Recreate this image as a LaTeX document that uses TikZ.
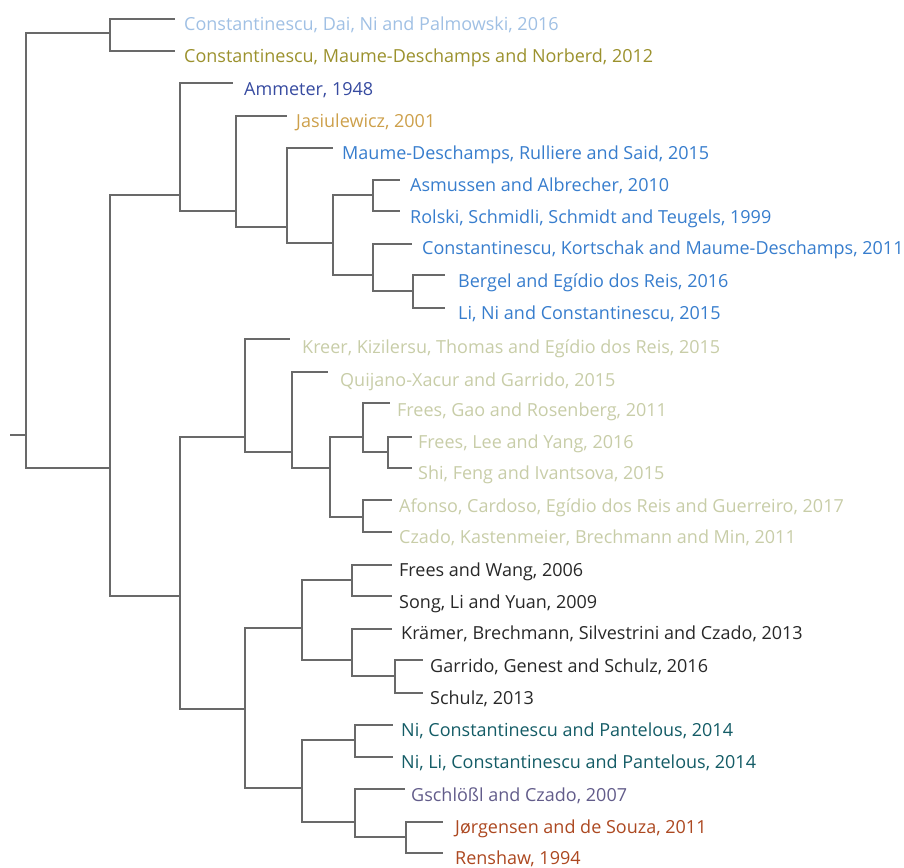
\documentclass[tikz,border=0pt]{standalone}
\usepackage{fontspec}
\setmainfont{Open Sans}
\definecolor{cLightBlue}{RGB}{160,192,228}
\definecolor{cOlive}{RGB}{155,145,45}
\definecolor{cNavy}{RGB}{55,75,160}
\definecolor{cTan}{RGB}{205,160,75}
\definecolor{cBlue}{RGB}{55,125,205}
\definecolor{cBeige}{RGB}{200,205,168}
\definecolor{cBlack}{RGB}{40,40,40}
\definecolor{cTeal}{RGB}{20,92,102}
\definecolor{cPurple}{RGB}{98,92,138}
\definecolor{cRust}{RGB}{172,72,32}
\definecolor{cLine}{RGB}{105,105,105}
\tikzset{
  x=1pt, y=-1pt,
  leaf/.style={anchor=base west, inner sep=0pt, font=\fontsize{18}{20}\selectfont},
  branch/.style={draw=cLine, line width=2.2pt},
}
\begin{document}
\begin{tikzpicture}
\useasboundingbox (0,0) rectangle (904,867);
% internal nodes
\coordinate (R0) at (10,435);
\coordinate (R) at (26,435);
\coordinate (A) at (110,33);
\coordinate (B) at (110,468);
\coordinate (C) at (180,195);
\coordinate (E) at (236,211);
\coordinate (F) at (287,227);
\coordinate (G) at (333,243);
\coordinate (H) at (373,195);
\coordinate (I) at (373,275);
\coordinate (J) at (413,291);
\coordinate (D) at (180,596);
\coordinate (K) at (245,437);
\coordinate (M) at (292,452);
\coordinate (N) at (330,468);
\coordinate (O) at (363,437);
\coordinate (Q) at (388,452);
\coordinate (P) at (363,517);
\coordinate (L) at (245,709);
\coordinate (S) at (302,628);
\coordinate (U) at (352,580);
\coordinate (V) at (352,660);
\coordinate (W) at (395,676);
\coordinate (T) at (302,788);
\coordinate (X) at (355,740);
\coordinate (Y) at (355,822);
\coordinate (Z) at (406,837);
% leaf line ends
\coordinate (e1) at (175,19);
\coordinate (e2) at (175,51);
\coordinate (e3) at (233,83);
\coordinate (e4) at (287,116);
\coordinate (e5) at (333,148);
\coordinate (e6) at (400,180);
\coordinate (e7) at (400,211);
\coordinate (e8) at (412,244);
\coordinate (e9) at (445,275);
\coordinate (e10) at (445,308);
\coordinate (e11) at (290,339);
\coordinate (e12) at (328,372);
\coordinate (e13) at (390,403);
\coordinate (e14) at (412,437);
\coordinate (e15) at (412,468);
\coordinate (e16) at (392,500);
\coordinate (e17) at (392,532);
\coordinate (e18) at (392,565);
\coordinate (e19) at (392,596);
\coordinate (e20) at (392,629);
\coordinate (e21) at (423,660);
\coordinate (e22) at (423,693);
\coordinate (e23) at (393,725);
\coordinate (e24) at (393,757);
\coordinate (e25) at (405,789);
\coordinate (e26) at (443,822);
\coordinate (e27) at (443,853);
% leaf labels
\node[leaf, text=cLightBlue] (t1) at (184,31) {Constantinescu, Dai, Ni and Palmowski, 2016};
\node[leaf, text=cOlive] (t2) at (184,63) {Constantinescu, Maume-Deschamps and Norberd, 2012};
\node[leaf, text=cNavy] (t3) at (244,95) {Ammeter, 1948};
\node[leaf, text=cTan] (t4) at (296,127) {Jasiulewicz, 2001};
\node[leaf, text=cBlue] (t5) at (342,159) {Maume-Deschamps, Rulliere and Said, 2015};
\node[leaf, text=cBlue] (t6) at (410,191) {Asmussen and Albrecher, 2010};
\node[leaf, text=cBlue] (t7) at (410,223) {Rolski, Schmidli, Schmidt and Teugels, 1999};
\node[leaf, text=cBlue] (t8) at (422,254) {Constantinescu, Kortschak and Maume-Deschamps, 2011};
\node[leaf, text=cBlue] (t9) at (458,287) {Bergel and Egídio dos Reis, 2016};
\node[leaf, text=cBlue] (t10) at (458,319) {Li, Ni and Constantinescu, 2015};
\node[leaf, text=cBeige] (t11) at (302,353) {Kreer, Kizilersu, Thomas and Egídio dos Reis, 2015};
\node[leaf, text=cBeige] (t12) at (340,386) {Quijano-Xacur and Garrido, 2015};
\node[leaf, text=cBeige] (t13) at (397,416) {Frees, Gao and Rosenberg, 2011};
\node[leaf, text=cBeige] (t14) at (418,448) {Frees, Lee and Yang, 2016};
\node[leaf, text=cBeige] (t15) at (418,479) {Shi, Feng and Ivantsova, 2015};
\node[leaf, text=cBeige] (t16) at (399,512) {Afonso, Cardoso, Egídio dos Reis and Guerreiro, 2017};
\node[leaf, text=cBeige] (t17) at (399,543) {Czado, Kastenmeier, Brechmann and Min, 2011};
\node[leaf, text=cBlack] (t18) at (399,576) {Frees and Wang, 2006};
\node[leaf, text=cBlack] (t19) at (399,608) {Song, Li and Yuan, 2009};
\node[leaf, text=cBlack] (t20) at (401,639) {Krämer, Brechmann, Silvestrini and Czado, 2013};
\node[leaf, text=cBlack] (t21) at (430,672) {Garrido, Genest and Schulz, 2016};
\node[leaf, text=cBlack] (t22) at (430,704) {Schulz, 2013};
\node[leaf, text=cTeal] (t23) at (401,736) {Ni, Constantinescu and Pantelous, 2014};
\node[leaf, text=cTeal] (t24) at (401,768) {Ni, Li, Constantinescu and Pantelous, 2014};
\node[leaf, text=cPurple] (t25) at (411,801) {Gschlößl and Czado, 2007};
\node[leaf, text=cRust] (t26) at (455,833) {Jørgensen and de Souza, 2011};
\node[leaf, text=cRust] (t27) at (455,864) {Renshaw, 1994};
% branches
\draw[branch] (R0) -- (R);
\draw[branch] (R) |- (A);
\draw[branch] (R) |- (B);
\draw[branch] (A) |- (e1);
\draw[branch] (A) |- (e2);
\draw[branch] (B) |- (C);
\draw[branch] (B) |- (D);
\draw[branch] (C) |- (e3);
\draw[branch] (C) |- (E);
\draw[branch] (E) |- (e4);
\draw[branch] (E) |- (F);
\draw[branch] (F) |- (e5);
\draw[branch] (F) |- (G);
\draw[branch] (G) |- (H);
\draw[branch] (G) |- (I);
\draw[branch] (H) |- (e6);
\draw[branch] (H) |- (e7);
\draw[branch] (I) |- (e8);
\draw[branch] (I) |- (J);
\draw[branch] (J) |- (e9);
\draw[branch] (J) |- (e10);
\draw[branch] (D) |- (K);
\draw[branch] (D) |- (L);
\draw[branch] (K) |- (e11);
\draw[branch] (K) |- (M);
\draw[branch] (M) |- (e12);
\draw[branch] (M) |- (N);
\draw[branch] (N) |- (O);
\draw[branch] (N) |- (P);
\draw[branch] (O) |- (e13);
\draw[branch] (O) |- (Q);
\draw[branch] (Q) |- (e14);
\draw[branch] (Q) |- (e15);
\draw[branch] (P) |- (e16);
\draw[branch] (P) |- (e17);
\draw[branch] (L) |- (S);
\draw[branch] (L) |- (T);
\draw[branch] (S) |- (U);
\draw[branch] (S) |- (V);
\draw[branch] (U) |- (e18);
\draw[branch] (U) |- (e19);
\draw[branch] (V) |- (e20);
\draw[branch] (V) |- (W);
\draw[branch] (W) |- (e21);
\draw[branch] (W) |- (e22);
\draw[branch] (T) |- (X);
\draw[branch] (T) |- (Y);
\draw[branch] (X) |- (e23);
\draw[branch] (X) |- (e24);
\draw[branch] (Y) |- (e25);
\draw[branch] (Y) |- (Z);
\draw[branch] (Z) |- (e26);
\draw[branch] (Z) |- (e27);
\end{tikzpicture}
\end{document}
